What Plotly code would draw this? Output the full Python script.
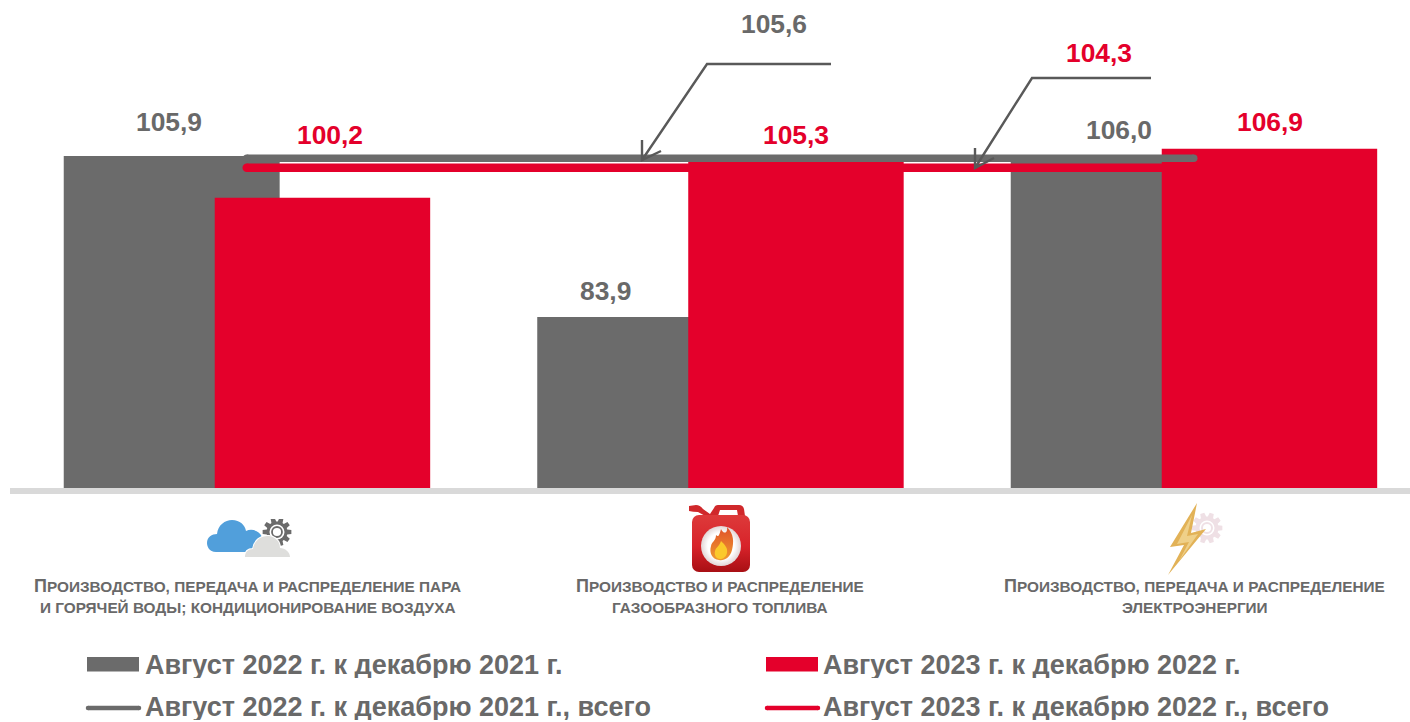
import base64, math
import plotly.graph_objects as go

categories = [
    "Производство, передача и распределение пара и горячей воды; кондиционирование воздуха",
    "Производство и распределение газообразного топлива",
    "Производство, передача и распределение электроэнергии",
]
category_line1 = ["Производство, передача и распределение пара", "Производство и распределение", "Производство, передача и распределение"]
category_line2 = ["и горячей воды; кондиционирование воздуха", "газообразного топлива", "электроэнергии"]
series_2022 = [105.9, 83.9, 106.0]
series_2023 = [100.2, 105.3, 106.9]
total_2022 = 105.6
total_2023 = 104.3
name_2022 = "Август 2022 г. к декабрю 2021 г."
name_2023 = "Август 2023 г. к декабрю 2022 г."
name_total_2022 = "Август 2022 г. к декабрю 2021 г., всего"
name_total_2023 = "Август 2023 г. к декабрю 2022 г., всего"

GRAY = "#6b6b6b"
RED = "#e4002b"
TEXT = "#696969"
FONT = "Liberation Sans"
W, H = 1410, 722
LEFT, BASE = 10, 488
PLOT_W, PLOT_H = W - LEFT, BASE


def fmt(v):
    return f"{v:.1f}".replace(".", ",")


def px(x):
    return (x - LEFT) / PLOT_W


def py(y):
    return (BASE - y) / PLOT_H


def smallcaps(s, big):
    """Upper-case text with a taller initial letter, as in the category captions."""
    out = s.upper()
    if s[0].isupper():
        return f'<span style="font-size:{big}px">{out[0]}</span>{out[1:]}'
    return out


fig = go.Figure()
fig.add_trace(go.Bar(x=categories, y=series_2022, name=name_2022, marker_color=GRAY,
                     width=0.456, offset=-0.3865, marker_line_width=0))
fig.add_trace(go.Bar(x=categories, y=series_2023, name=name_2023, marker_color=RED,
                     width=0.455, offset=-0.0676, marker_line_width=0))
fig.add_trace(go.Scatter(x=[categories[0], categories[-1]], y=[total_2023] * 2, name=name_total_2023,
                         mode="lines+markers", line=dict(color=RED, width=8.5),
                         marker=dict(color=RED, size=8.5)))
fig.add_trace(go.Scatter(x=[categories[0], categories[-1]], y=[total_2022] * 2, name=name_total_2022,
                         mode="lines+markers", line=dict(color=GRAY, width=7.5),
                         marker=dict(color=GRAY, size=7.5)))

ann = []


def text(x, y, s, size, color=TEXT, anchor="center", height=None):
    a = dict(x=px(x), y=py(y), xref="paper", yref="paper", text=s, showarrow=False,
             xanchor=anchor, yanchor="middle", font=dict(family=FONT, size=size, color=color))
    if height:
        a.update(height=height, borderpad=0, valign="middle")
    ann.append(a)


VALUE_SIZE = 26.4
for x, y, v, c in [(169, 122, series_2022[0], TEXT), (330, 135, series_2023[0], RED),
                   (605, 291, series_2022[1], TEXT), (796, 135, series_2023[1], RED),
                   (1119, 130, series_2022[2], TEXT), (1270, 122, series_2023[2], RED),
                   (774, 24, total_2022, TEXT), (1099, 53, total_2023, RED)]:
    text(x, y, f"<b>{fmt(v)}</b>", VALUE_SIZE, c)

for cx, a, b in zip([247.5, 720.5, 1194.5], category_line1, category_line2):
    text(cx, 586, "<b>" + smallcaps(a, 18) + "</b>", 15.35)
    text(cx, 607, "<b>" + smallcaps(b, 18) + "</b>", 15.35)

LEG = 27
text(144, 665, f"<b>{name_2022}</b>", LEG, anchor="left", height=26)
text(822, 665, f"<b>{name_2023}</b>", LEG, anchor="left", height=26)
text(144, 706.5, f"<b>{name_total_2022}</b>", LEG, anchor="left", height=26)
text(822, 706.5, f"<b>{name_total_2023}</b>", LEG, anchor="left", height=26)

shapes = []


def polyline(pts, color, width):
    d = "M" + " L".join(f"{px(x):.5f},{py(y):.5f}" for x, y in pts)
    shapes.append(dict(type="path", xref="paper", yref="paper", path=d,
                       line=dict(color=color, width=width)))


# callouts to the two total lines
LEADER = "#595959"
polyline([(831, 64), (707, 64), (642, 160)], LEADER, 2.4)
polyline([(642, 140), (642, 160), (661, 151)], LEADER, 2.4)
polyline([(1151, 78), (1032, 78), (975, 168)], LEADER, 2.4)
polyline([(975, 148), (975, 168), (994, 158)], LEADER, 2.4)

# legend keys
for x0, x1, c in [(87, 139, GRAY), (766, 818, RED)]:
    shapes.append(dict(type="rect", xref="paper", yref="paper", x0=px(x0), x1=px(x1), y0=py(671.5), y1=py(657),
                       fillcolor=c, line_width=0))
for x0, x1, c in [(88, 139, GRAY), (767, 818, RED)]:
    polyline([(x0, 708), (x1, 708)], c, 4.5)
    for xe in (x0, x1):
        shapes.append(dict(type="circle", xref="paper", yref="paper", x0=px(xe - 2.25), x1=px(xe + 2.25),
                           y0=py(710.25), y1=py(705.75), fillcolor=c, line_width=0))


def gear(cx, cy, r_out, r_in, teeth=10):
    pts = []
    for i in range(teeth):
        a = 2 * math.pi * i / teeth
        step = 2 * math.pi / teeth
        for da, r in [(-0.30, r_in), (-0.17, r_out), (0.17, r_out), (0.30, r_in)]:
            t = a + da * step * 1.3
            pts.append(f"{cx + r * math.cos(t):.2f},{cy + r * math.sin(t):.2f}")
    return "M" + " L".join(pts) + " Z"


def svg_image(x, y, w, h, body):
    svg = f'<svg xmlns="http://www.w3.org/2000/svg" width="{w}" height="{h}" viewBox="0 0 {w} {h}">{body}</svg>'
    uri = "data:image/svg+xml;base64," + base64.b64encode(svg.encode()).decode()
    return dict(source=uri, xref="paper", yref="paper", x=px(x), y=py(y), sizex=w / PLOT_W, sizey=h / PLOT_H,
                xanchor="left", yanchor="top", sizing="stretch", layer="above")


cloud_svg = (
    '<path d="M9,33 C2,33 0,27 0,24 C0,18 5,15 10,15 C11,6 18,1 25,1 C33,1 38,6 39,12 '
    'C45,9 53,12 55,18 L55,33 Z" fill="#519fdb"/>'
    f'<path d="{gear(70, 13, 14.5, 10.5)}" fill="#6b6b6b"/>'
    '<circle cx="70" cy="13" r="7.5" fill="#fff"/><circle cx="70" cy="13" r="5" fill="none" stroke="#6b6b6b" stroke-width="1.8"/>'
    '<path d="M38,38 C38,33 41,30 46,30 C47,22 54,16 62,17 C69,18 73,23 73,29 C78,29 83,33 83,38 Z" fill="#fff" stroke="#fff" stroke-width="2"/>'
    '<path d="M38,38 C38,33 41,30 46,30 C47,22 54,16 62,17 C69,18 73,23 73,29 C78,29 83,33 83,38 Z" fill="#dededc"/>'
)
can_svg = (
    '<defs><linearGradient id="g" x1="0" y1="0" x2="0" y2="1"><stop offset="0" stop-color="#dd3a3a"/>'
    '<stop offset="0.55" stop-color="#d8232a"/><stop offset="1" stop-color="#a80f14"/></linearGradient>'
    '<radialGradient id="w" cx="0.5" cy="0.5" r="0.55"><stop offset="0.6" stop-color="#fff"/><stop offset="1" stop-color="#d9c9c9"/></radialGradient>'
    '<linearGradient id="f" x1="0" y1="0" x2="0" y2="1"><stop offset="0" stop-color="#e0522a"/><stop offset="1" stop-color="#ef9a2e"/></linearGradient></defs>'
    '<path d="M1,2 L8,1 Q12,1 15,5 L22,10 L26,4 Q27,1 30,1 L51,1 Q55,1 56,5 L57,12 L50,12 L49,6 L32,6 L30,12 L19,13 L10,8 Q5,8 1,7 Z" fill="#d0282b"/>'
    '<rect x="4" y="11" width="58" height="57" rx="7" fill="url(#g)"/>'
    '<circle cx="33" cy="42" r="20" fill="url(#w)"/>'
    '<path d="M33,25 C36,31 40,29 39,23 C46,30 46,38 44,46 C42,54 36,57 31,56 C24,55 21,49 23,42 C24,37 28,37 28,31 C30,33 31,33 33,25 Z" fill="url(#f)"/>'
    '<path d="M33,37 C37,41 40,44 39,49 C38,53 35,55 32,55 C28,55 26,51 27,47 C28,43 31,43 33,37 Z" fill="#fbc92b"/>'
)
bolt_svg = (
    f'<path d="{gear(40, 27, 15.5, 11.5)}" fill="#efe0e5"/>'
    '<circle cx="40" cy="27" r="7.5" fill="#fff"/><circle cx="40" cy="27" r="5" fill="none" stroke="#efe0e5" stroke-width="2"/>'
    '<path d="M30,2 L3,46 L17,44 L1,74 L39,28 L24,32 Z" fill="#e2b257"/>'
    '<path d="M25,14 L10,43 L22,41 L12,60 L31,33 L20,35 Z" fill="#efd089"/>'
)
images = [
    svg_image(207, 519, 85, 39, cloud_svg),
    svg_image(688, 504, 63, 69, can_svg),
    svg_image(1167, 501, 57, 75, bolt_svg),
]

fig.update_layout(
    width=W, height=H, margin=dict(l=LEFT, r=0, t=0, b=H - BASE),
    paper_bgcolor="white", plot_bgcolor="white", barmode="overlay", showlegend=False,
    font=dict(family=FONT, color=TEXT),
    xaxis=dict(type="category", categoryorder="array", categoryarray=categories,
               range=[-0.5, -0.5 + PLOT_W / 473.5], showticklabels=False, ticks="",
               showgrid=False, zeroline=False, showline=True, linecolor="#d9d9d9", linewidth=6),
    yaxis=dict(range=[60.53, 60.53 + BASE / 7.318], visible=False, showgrid=False, zeroline=False),
    annotations=ann, shapes=shapes, images=images,
)
fig.write_html("out.html", config=dict(displayModeBar=False),
               post_script="document.body.style.margin='0';document.documentElement.style.overflow='hidden';")
